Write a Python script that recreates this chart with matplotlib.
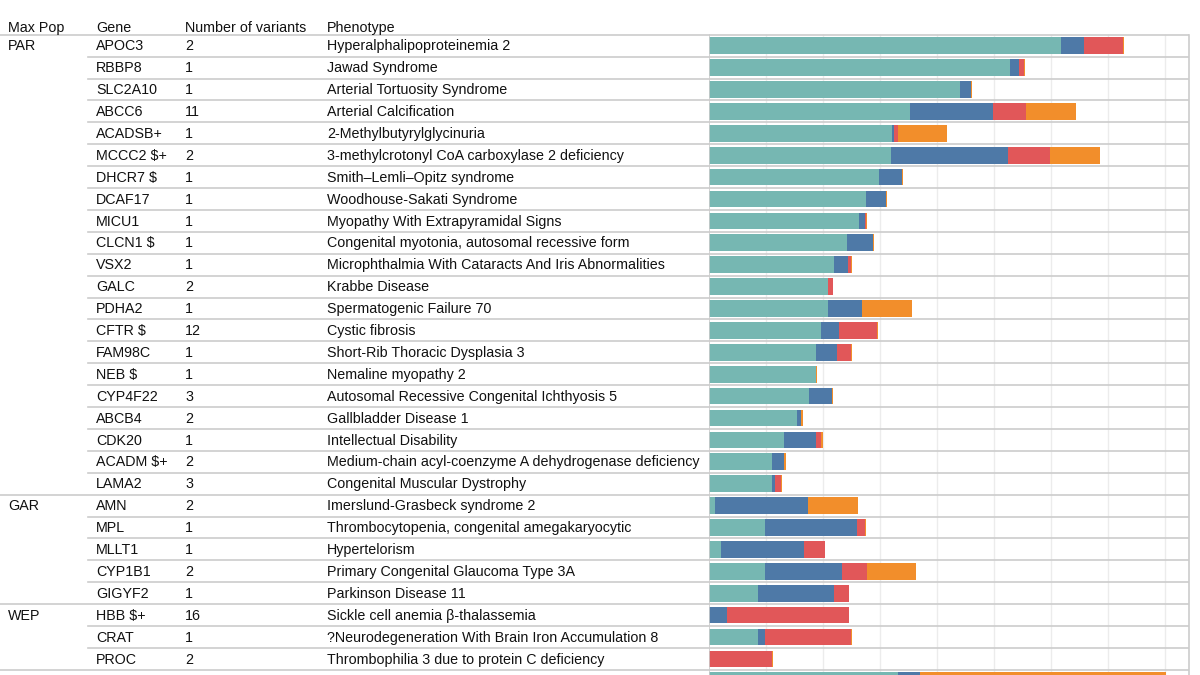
import numpy as np
import matplotlib
matplotlib.use('Agg')
import matplotlib.pyplot as plt

plt.rcParams['font.family'] = ['Liberation Sans', 'DejaVu Sans']

# ============================================================
#  Data
# ============================================================
pops = ['PAR'] + [''] * 20 + ['GAR'] + [''] * 4 + ['WEP', '', '', '']
genes = ['APOC3', 'RBBP8', 'SLC2A10', 'ABCC6', 'ACADSB+', 'MCCC2 $+', 'DHCR7 $',
         'DCAF17', 'MICU1', 'CLCN1 $', 'VSX2', 'GALC', 'PDHA2', 'CFTR $',
         'FAM98C', 'NEB $', 'CYP4F22', 'ABCB4', 'CDK20', 'ACADM $+', 'LAMA2',
         'AMN', 'MPL', 'MLLT1', 'CYP1B1', 'GIGYF2',
         'HBB $+', 'CRAT', 'PROC', '']
n_variants = ['2', '1', '1', '11', '1', '2', '1', '1', '1', '1', '1', '2', '1', '12',
              '1', '1', '3', '2', '1', '2', '3',
              '2', '1', '1', '2', '1',
              '16', '1', '2', '']
phenotypes = [
    'Hyperalphalipoproteinemia 2',
    'Jawad Syndrome',
    'Arterial Tortuosity Syndrome',
    'Arterial Calcification',
    '2-Methylbutyrylglycinuria',
    '3-methylcrotonyl CoA carboxylase 2 deficiency',
    'Smith\u2013Lemli\u2013Opitz syndrome',
    'Woodhouse-Sakati Syndrome',
    'Myopathy With Extrapyramidal Signs',
    'Congenital myotonia, autosomal recessive form',
    'Microphthalmia With Cataracts And Iris Abnormalities',
    'Krabbe Disease',
    'Spermatogenic Failure 70',
    'Cystic fibrosis',
    'Short-Rib Thoracic Dysplasia 3',
    'Nemaline myopathy 2',
    'Autosomal Recessive Congenital Ichthyosis 5',
    'Gallbladder Disease 1',
    'Intellectual Disability',
    'Medium-chain acyl-coenzyme A dehydrogenase deficiency',
    'Congenital Muscular Dystrophy',
    'Imerslund-Grasbeck syndrome 2',
    'Thrombocytopenia, congenital amegakaryocytic',
    'Hypertelorism',
    'Primary Congenital Glaucoma Type 3A',
    'Parkinson Disease 11',
    'Sickle cell anemia \u03b2-thalassemia',
    '?Neurodegeneration With Brain Iron Accumulation 8',
    'Thrombophilia 3 due to protein C deficiency',
    '',  # next row, cut off at the bottom of the picture
]

# stacked segments (same order as rows)
teal = [6.18, 5.28, 4.41, 3.53, 3.21, 3.19, 2.98, 2.75, 2.63, 2.42, 2.20, 2.09, 2.09, 1.97,
        1.88, 1.88, 1.75, 1.54, 1.31, 1.10, 1.10,
        0.105, 0.98, 0.20, 0.98, 0.86,
        0.0, 0.86, 0.0, 3.31]
blue = [0.40, 0.16, 0.19, 1.45, 0.03, 2.06, 0.41, 0.35, 0.11, 0.46, 0.23, 0.0, 0.60, 0.31,
        0.36, 0.0, 0.40, 0.07, 0.57, 0.22, 0.06,
        1.63, 1.61, 1.46, 1.35, 1.34,
        0.31, 0.12, 0.0, 0.40]
red = [0.69, 0.09, 0.0, 0.59, 0.07, 0.73, 0.0, 0.0, 0.02, 0.0, 0.06, 0.08, 0.0, 0.67,
       0.25, 0.0, 0.0, 0.0, 0.09, 0.0, 0.10,
       0.0, 0.15, 0.37, 0.44, 0.25,
       2.14, 1.51, 1.11, 0.0]
orange = [0.02, 0.02, 0.02, 0.88, 0.87, 0.88, 0.02, 0.03, 0.01, 0.02, 0.02, 0.01, 0.88, 0.01,
          0.01, 0.02, 0.02, 0.035, 0.02, 0.03, 0.02,
          0.88, 0.01, 0.01, 0.86, 0.01,
          0.01, 0.01, 0.01, 4.32]

series = [teal, blue, red, orange]
colors = ['#76b7b2', '#4e79a7', '#e15759', '#f28e2b']

headers = ['Max Pop', 'Gene', 'Number of variants', 'Phenotype']
col_x = [8, 96, 185, 327]  # px positions of the table columns

# ============================================================
#  Layout
# ============================================================
W, H = 1200, 675
row0, row_h = 45.7, 21.9      # px centre of first row, px per row
bar_left, bar_right = 709.3, 1189.0
unit_px = 56.9                # px per grid unit
sep_col = '#cccccc'
grid_col = '#ececec'
txt_col = '#111111'

ylim = ((H - row0) / row_h, -row0 / row_h)
n = len(genes)
y = np.arange(n)

fig = plt.figure(figsize=(12, 6.75), dpi=100)
tab = fig.add_axes([0, 0, bar_left / W, 1])
ax = fig.add_axes([bar_left / W, 0, (bar_right - bar_left) / W, 1])

for a in (tab, ax):
    a.set_ylim(*ylim)
    a.axis('off')
tab.set_xlim(0, bar_left)
ax.set_xlim(0, (bar_right - bar_left) / unit_px)

# ---- bars ----
left = np.zeros(n)
for vals, c in zip(series, colors):
    vals = np.array(vals)
    ax.barh(y, vals, left=left, height=0.76, color=c, linewidth=0, zorder=3)
    left += vals

# ---- grid + separators in bar area ----
top_line = -0.5
for gx in range(1, 9):
    ax.plot([gx, gx], [top_line, ylim[0]], color=grid_col, lw=1.0, zorder=1)
ax.plot([0, 0], [top_line, ylim[0]], color=sep_col, lw=1.2, zorder=4)
xr = ax.get_xlim()[1]
ax.plot([xr, xr], [top_line, ylim[0]], color=sep_col, lw=1.2, zorder=4, clip_on=False)
for i in range(-1, n - 1):
    ax.plot([0, xr], [i + 0.5, i + 0.5], color=sep_col, lw=1.2, zorder=2)

# ---- table ----
fs = 10.25
for hx, h in zip(col_x, headers):
    tab.text(hx, -0.8, h, fontsize=fs, color=txt_col, va='center', ha='left')
tab.plot([0, bar_left], [top_line, top_line], color=sep_col, lw=1.2)

for i in range(n):
    for cx, val in zip(col_x, [pops[i], genes[i], n_variants[i], phenotypes[i]]):
        if val:
            tab.text(cx, i + 0.03, val, fontsize=fs, color=txt_col, va='center', ha='left')
    if i < n - 1:
        # separator under this row: full width where a new group starts
        start = 0 if pops[i + 1] or i + 1 == n - 1 else 88
        tab.plot([start, bar_left], [i + 0.5, i + 0.5], color=sep_col, lw=1.2)

fig.savefig('out.png', dpi=100)
